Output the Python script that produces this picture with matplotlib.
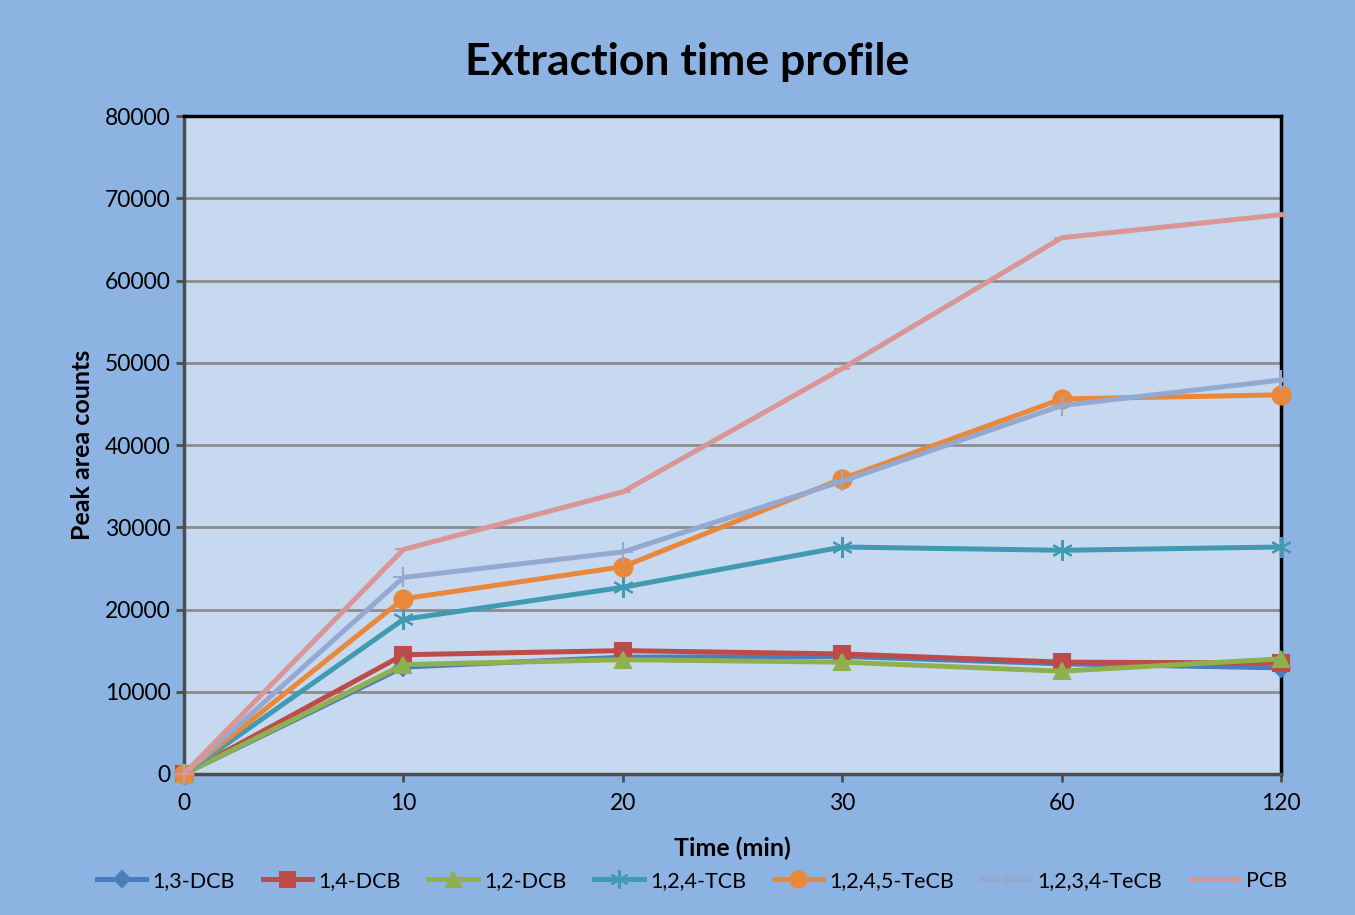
import matplotlib
matplotlib.use("Agg")
import matplotlib.pyplot as plt
import numpy as np

plt.rcParams['font.family'] = ['Lato', 'DejaVu Sans']

# data
times = ['0', '10', '20', '30', '60', '120']
dcb13 = [0, 13000, 14200, 14300, 13400, 12900]
dcb14 = [0, 14500, 15000, 14600, 13600, 13500]
dcb12 = [0, 13300, 13900, 13600, 12500, 14000]
tcb124 = [0, 18800, 22700, 27600, 27200, 27600]
tecb1245 = [0, 21300, 25200, 35900, 45600, 46100]
tecb1234 = [0, 23900, 27000, 35600, 44800, 47900]
pcb = [0, 27300, 34300, 49300, 65200, 68000]

series_names = ['1,3-DCB', '1,4-DCB', '1,2-DCB', '1,2,4-TCB', '1,2,4,5-TeCB', '1,2,3,4-TeCB', 'PCB']
series_vals = [dcb13, dcb14, dcb12, tcb124, tecb1245, tecb1234, pcb]
colors = ['#4a7ebb', '#be4b48', '#8fb04e', '#3f9ab2', '#e9883a', '#93a9d0', '#d99694']
markers = ['D', 's', '^', (6, 2, 0), 'o', '+', '_']
msizes = [9, 12, 12, 15, 13, 14, 12]

fig = plt.figure(figsize=(13.55, 9.15), dpi=100)
fig.patch.set_facecolor('#8db3e2')
ax = fig.add_axes([0.1358, 0.1541, 0.8096, 0.7191])
ax.set_facecolor('#c6d9f1')

x = np.arange(len(times))
for name, vals, c, m, ms in zip(series_names, series_vals, colors, markers, msizes):
    ax.plot(x, vals, color=c, lw=3.6, marker=m, markersize=ms,
            markeredgecolor=c, markerfacecolor=c, markeredgewidth=1.5,
            label=name, clip_on=False, zorder=3)

ax.set_xlim(0, 5)
ax.set_ylim(0, 80000)
ax.set_yticks(np.arange(0, 80001, 10000))
ax.set_xticks(x)
ax.set_xticklabels(times)
ax.yaxis.grid(True, color='#8c8c8c', lw=2)
ax.set_axisbelow(True)

for s in ['left', 'bottom']:
    ax.spines[s].set_color('#4d4d4d')
    ax.spines[s].set_linewidth(2.5)
for s in ['top', 'right']:
    ax.spines[s].set_color('black')
    ax.spines[s].set_linewidth(2.5)

ax.tick_params(axis='both', labelsize=16.5, colors='#4d4d4d', width=2, length=6,
               labelcolor='black')
ax.tick_params(axis='x', pad=8)

fig.text(0.507, 0.932, 'Extraction time profile', fontsize=32, fontweight='bold',
         ha='center', va='center')
ax.set_xlabel('Time (min)', fontsize=18, fontweight='bold', labelpad=16)
ax.set_ylabel('Peak area counts', fontsize=18, fontweight='bold', labelpad=8)

ax.legend(loc='upper center', bbox_to_anchor=(0.463, -0.118), ncol=7, frameon=False,
          fontsize=15.5, handlelength=2.3, columnspacing=1.27, handletextpad=0.3,
          markerscale=0.9)

fig.savefig('out.png', dpi=100, facecolor=fig.get_facecolor())
